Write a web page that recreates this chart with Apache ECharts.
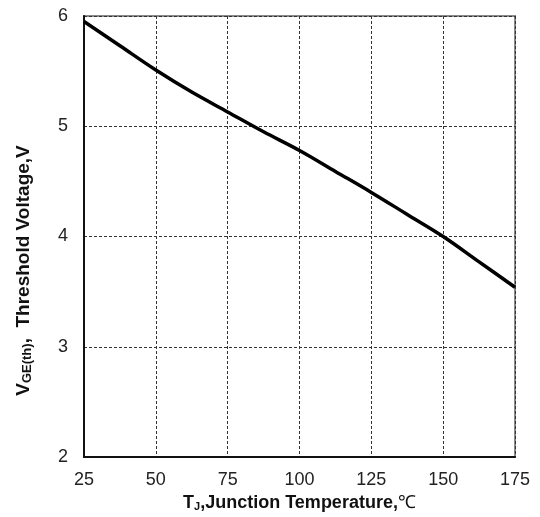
<!DOCTYPE html>
<html><head><meta charset="utf-8">
<script src="https://cdn.jsdelivr.net/npm/echarts@6/dist/echarts.min.js"></script>
<style>html,body{margin:0;padding:0;background:#fff}#c{width:540px;height:517px}</style>
</head><body><div id="c"></div>
<script>
const temperatures = [25, 37.5, 50, 62.5, 75, 87.5, 100, 112.5, 125, 137.5, 150, 162.5, 175];
const thresholdVoltage = [5.95, 5.73, 5.51, 5.31, 5.13, 4.95, 4.78, 4.59, 4.40, 4.20, 4.00, 3.77, 3.54];
const xTicks = [25, 50, 75, 100, 125, 150, 175];
const yTicks = [2, 3, 4, 5, 6];

const chart = echarts.init(document.getElementById('c'));
const font = '"Liberation Sans", Arial, sans-serif';
chart.setOption({
  animation: false,
  grid: { left: 84, right: 25, top: 16, bottom: 60, outerBoundsMode: 'none', containLabel: false,
    show: true, borderColor: '#8a8a8a', borderWidth: 2 },
  xAxis: {
    type: 'value', min: 25, max: 175, interval: 25,
    axisLine: { show: true, onZero: false, lineStyle: { color: '#111', width: 2 } },
    axisTick: { show: false },
    axisLabel: { color: '#222', fontSize: 18, fontFamily: font, margin: 14,
      formatter: v => xTicks.includes(v) ? String(v) : '' },
    splitLine: { show: true, lineStyle: { color: '#333', type: [3, 2], width: 1 } },
    name: '{b|T}{s|J}{b|,Junction Temperature,}{c|℃}',
    nameLocation: 'middle', nameGap: 35,
    nameTextStyle: { rich: {
      b: { fontSize: 18, fontWeight: 'bold', fontFamily: font, color: '#111' },
      s: { fontSize: 11, fontWeight: 'bold', fontFamily: font, color: '#111', verticalAlign: 'bottom', padding: [8, 0, 0, 0] },
      c: { fontSize: 18, fontFamily: '"Liberation Serif", serif', color: '#111' }
    } }
  },
  yAxis: {
    type: 'value', min: 2, max: 6, interval: 1,
    axisLine: { show: true, lineStyle: { color: '#111', width: 2 } },
    axisTick: { show: false },
    axisLabel: { color: '#222', fontSize: 18, fontFamily: font, margin: 16,
      formatter: v => yTicks.includes(v) ? String(v) : '' },
    splitLine: { show: true, lineStyle: { color: '#333', type: [3, 2], width: 1 } },
    name: '{b|V}{s|GE(th)}{b|,  Threshold Voltage,V}',
    nameLocation: 'middle', nameGap: 50, nameRotate: 90,
    nameTextStyle: { padding: [0, 68, 0, 0], rich: {
      b: { fontSize: 19, fontWeight: 'bold', fontFamily: font, color: '#111' },
      s: { fontSize: 13, fontWeight: 'bold', fontFamily: font, color: '#111', padding: [8, 0, 0, 0] }
    } }
  },
  series: [{
    type: 'line', smooth: 0.35, showSymbol: false,
    data: temperatures.map((t, i) => [t, thresholdVoltage[i]]),
    lineStyle: { color: '#000', width: 3.5 }
  }]
});
</script></body></html>
